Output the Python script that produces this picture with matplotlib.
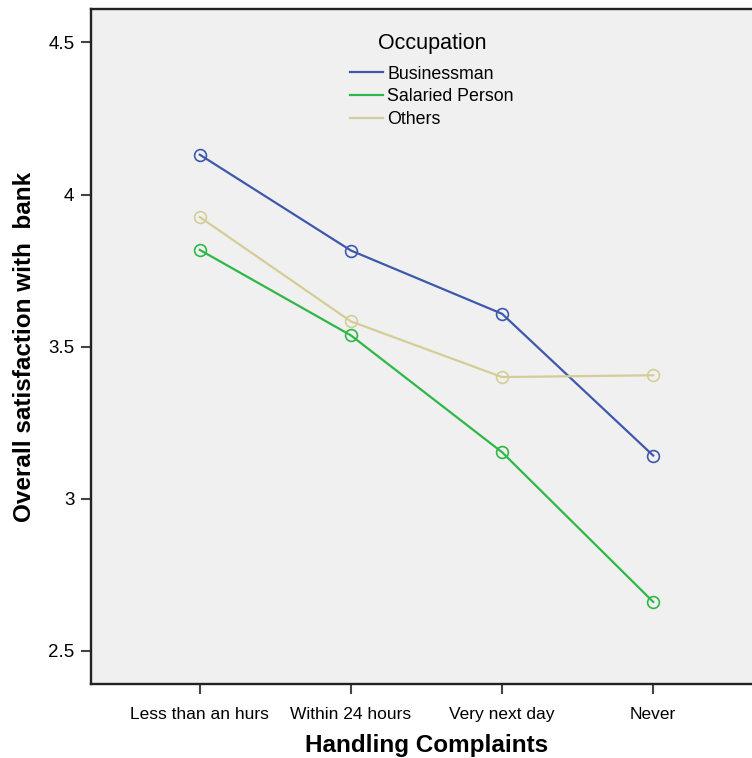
import matplotlib
matplotlib.use('Agg')
import matplotlib.pyplot as plt

plt.rcParams['font.family'] = ['Liberation Sans', 'DejaVu Sans']

# data
categories = ['Less than an hurs', 'Within 24 hours', 'Very next day', 'Never']
businessman = [4.131, 3.816, 3.608, 3.142]
salaried = [3.818, 3.537, 3.153, 2.661]
others = [3.926, 3.583, 3.400, 3.406]
series_names = ['Businessman', 'Salaried Person', 'Others']
colors = ['#3E58AC', '#2EB848', '#D3CE97']

fig = plt.figure(figsize=(7.52, 7.58), dpi=100)
ax = fig.add_axes([91 / 752, 73.7 / 758, (762 - 91) / 752, (684.3 - 9) / 758])
ax.set_facecolor('#f0f0f0')

x = list(range(len(categories)))
for vals, name, c in zip([businessman, salaried, others], series_names, colors):
    ax.plot(x, vals, color=c, lw=1.6, marker='o', ms=8.5, mfc='none',
            mec=c, mew=1.2, label=name)

ax.set_xlim(-0.72, 3.72)
ax.set_ylim(2.39, 4.61)
ax.set_xticks(x)
ax.set_xticklabels(categories, fontsize=12.5)
ax.set_yticks([2.5, 3, 3.5, 4, 4.5])
ax.set_yticklabels(['2.5', '3', '3.5', '4', '4.5'], fontsize=13.5)
ax.tick_params(axis='both', direction='out', length=7, width=1.5, color='#444444')
ax.tick_params(axis='x', pad=9)
ax.tick_params(axis='y', pad=5)

for side in ['left', 'bottom', 'top', 'right']:
    ax.spines[side].set_linewidth(1.7)
    ax.spines[side].set_color('#222222')

ax.set_xlabel('Handling Complaints', fontsize=17.5, fontweight='bold', labelpad=9)
ax.set_ylabel('Overall satisfaction with  bank', fontsize=17.5, fontweight='bold', labelpad=9)

leg = ax.legend(title='Occupation', loc='upper left', bbox_to_anchor=(341 / 752, 1 - 24 / 758),
                bbox_transform=fig.transFigure, frameon=False, fontsize=12.8,
                title_fontsize=15.5, handlelength=1.85, handletextpad=0.25, labelspacing=0.32,
                borderpad=0, numpoints=1)
leg._legend_box.align = 'center'
leg._legend_box.sep = 8.5
for h in leg.legend_handles:
    h.set_marker('')
    h.set_linewidth(1.6)

fig.savefig('out.png', dpi=100)
